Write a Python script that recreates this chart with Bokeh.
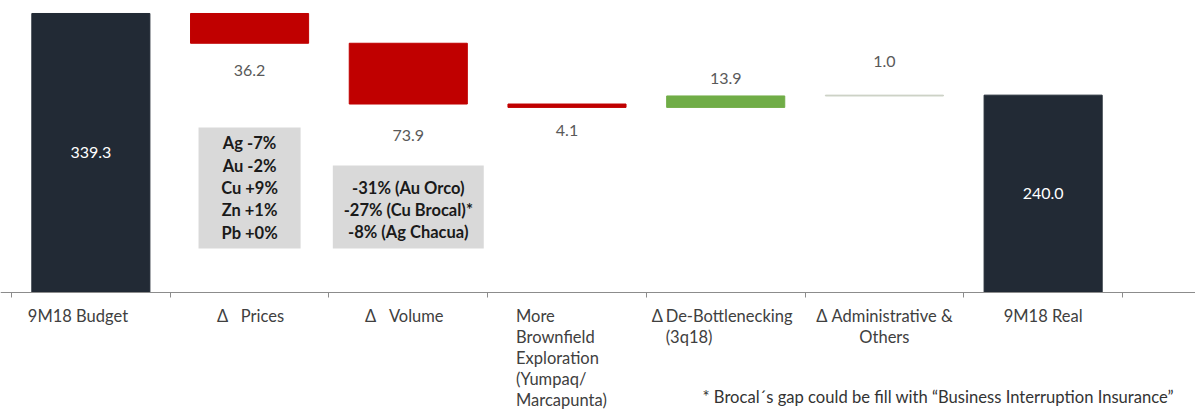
from bokeh.plotting import figure
from bokeh.models import Range1d, FixedTicker, ColumnDataSource
from bokeh.core.properties import value
from bokeh.embed import file_html
from bokeh.resources import INLINE

# ---------------- data ----------------
NB = "\u00a0"
category_labels = [
    "9M18 Budget",
    "Δ" + NB * 3 + "Prices",
    "Δ" + NB * 3 + "Volume",
    "More\nBrownfield\nExploration\n(Yumpaq/\nMarcapunta)",
    "De-Bottlenecking\n(3q18)",
    "Δ Administrative &\nOthers",
    "9M18 Real",
]
budget_total = 339.3
deltas = [-36.2, -73.9, -4.1, 13.9, 1.0]
real_total = 240.0
value_texts = ["339.3", "36.2", "73.9", "4.1", "13.9", "1.0", "240.0"]
price_notes = ["Ag -7%", "Au -2%", "Cu +9%", "Zn +1%", "Pb +0%"]
volume_notes = ["-31% (Au Orco)", "-27% (Cu Brocal)*", "-8% (Ag Chacua)"]
footnote = "* Brocal\u00b4s gap could be fill with \u201cBusiness Interruption Insurance\u201d"

# ---------------- waterfall ----------------
n = len(category_labels)
xs = [i + 0.5 for i in range(n)]
bottoms, tops, kinds = [0.0], [budget_total], ["total"]
level = budget_total
for d in deltas:
    new = level + d
    bottoms.append(min(level, new))
    tops.append(max(level, new))
    kinds.append("neg" if d < 0 else "pos")
    level = new
bottoms.append(0.0)
tops.append(real_total)
kinds.append("total")

kind_color = {"total": "#222A35", "neg": "#C00000", "pos": "#70AD47"}
colors = [kind_color[k] for k in kinds]
colors[5] = "#CBD0C4"  # tiny admin step renders as a pale hairline

FONT = value("Lato")

p = figure(width=1195, height=409, output_backend="svg", toolbar_location=None,
           x_range=Range1d(-0.0693, 7.460), y_range=Range1d(-142.3, 355.1),
           min_border=0, min_border_left=0, min_border_right=0,
           min_border_top=0, min_border_bottom=0)
p.outline_line_color = None
p.grid.visible = False
p.yaxis.visible = False
p.background_fill_color = "white"
p.border_fill_color = "white"

xa = p.xaxis[0]
xa.fixed_location = 0
xa.ticker = FixedTicker(ticks=list(range(n + 1)))
xa.major_label_overrides = {i: " " for i in range(n + 1)}
xa.major_label_standoff = 0
xa.minor_tick_line_color = None
xa.axis_line_color = "#8C8C8C"
xa.major_tick_line_color = "#8C8C8C"
xa.major_tick_out = 5
xa.major_tick_in = 0

src = ColumnDataSource(dict(x=xs, bottom=bottoms, top=tops, color=colors))
p.vbar(x="x", bottom="bottom", top="top", width=0.744, fill_color="color",
       line_color="color", line_width=1, source=src)

# value labels
label_y, label_off = [], []
offsets = [0, 27, 31, 23, -17, -34, 0]
for i in range(n):
    if kinds[i] == "total":
        label_y.append((bottoms[i] + tops[i]) / 2)
    elif kinds[i] == "neg":
        label_y.append(bottoms[i])
    else:
        label_y.append(tops[i])
    label_off.append(offsets[i])
label_colors = ["white" if k == "total" else "#595959" for k in kinds]
vsrc = ColumnDataSource(dict(x=xs, y=label_y, t=value_texts, yo=label_off, c=label_colors))
p.text(x="x", y="y", text="t", y_offset="yo", text_color="c", text_font=FONT,
       text_font_size="16px", text_align="center", text_baseline="middle", source=vsrc)

# note boxes
box_src = ColumnDataSource(dict(
    left=[xs[1] - 0.3215, xs[2] - 0.4755],
    right=[xs[1] + 0.3215, xs[2] + 0.4755],
    top=[200.7, 154.5],
    bottom=[53.5, 53.5],
))
p.quad(left="left", right="right", top="top", bottom="bottom", fill_color="#D9D9D9",
       line_color=None, source=box_src)
p.text(x=[xs[1], xs[2]], y=[(200.7 + 53.5) / 2, (154.5 + 53.5) / 2],
       text=["\n".join(price_notes), "\n".join(volume_notes)], y_offset=[0, 3],
       text_font=FONT, text_font_size="16.5px", text_font_style="bold", text_color="#1A1A1A",
       text_align="center", text_baseline="middle", text_line_height=1.12)

# category labels
cat_align = ["left", "center", "center", "left", "left", "center", "center"]
cat_xoff = [-63, 1, -4, -51, -60, 0, 0]
csrc = ColumnDataSource(dict(x=xs, y=[0] * n, t=category_labels, a=cat_align, xo=cat_xoff))
p.text(x="x", y="y", text="t", text_align="a", x_offset="xo", y_offset=14,
       text_baseline="top", text_font=FONT, text_font_size="16.5px", text_color="#404040",
       text_line_height=1.04, source=csrc)
p.text(x=[xs[4]], y=[0], text=["Δ"], x_offset=-74, y_offset=14, text_baseline="top",
       text_font=FONT, text_font_size="16.5px", text_color="#404040")

# footnote
p.text(x=[4.354], y=[0], text=[footnote], y_offset=105, text_baseline="middle",
       text_font=FONT, text_font_size="16.6px", text_color="#333333")

open("out.html", "w").write(file_html(p, INLINE))
